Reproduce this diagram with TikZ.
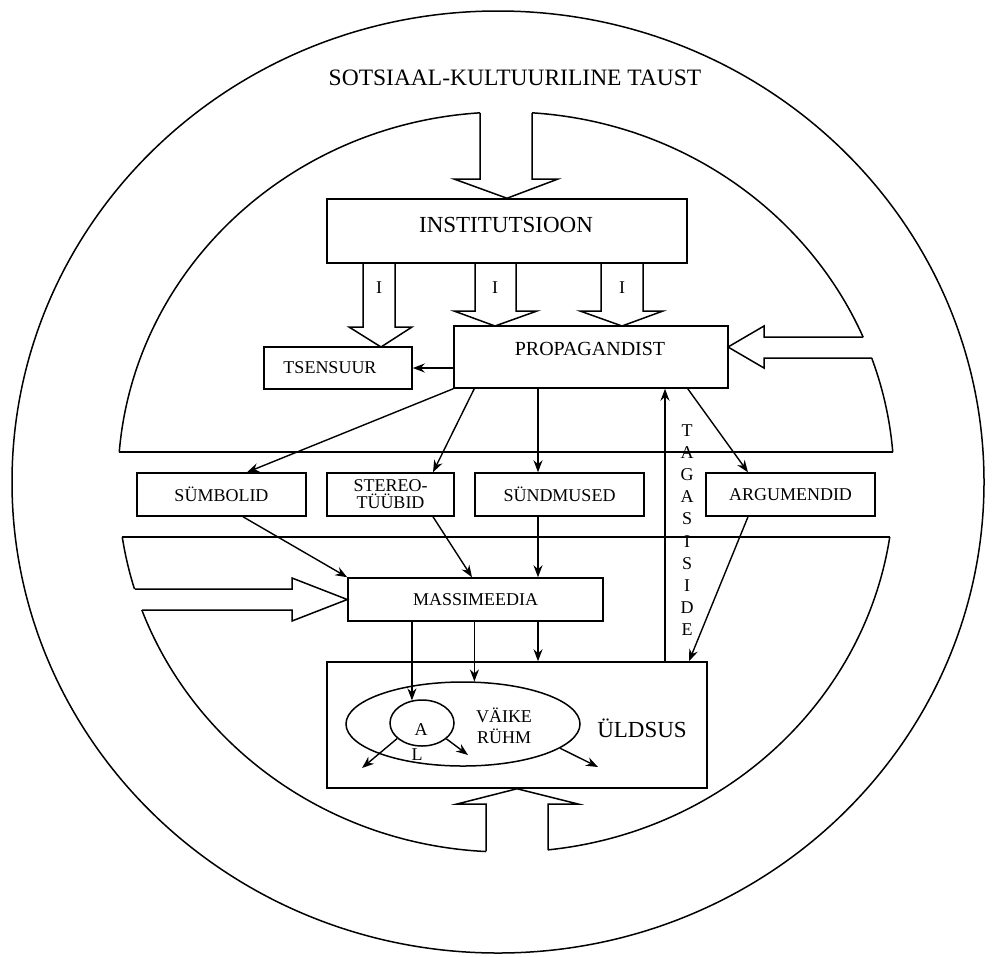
\documentclass[tikz,border=0pt]{standalone}
\usepackage{fontspec}
\setmainfont{Liberation Serif}
\usetikzlibrary{arrows.meta,shapes.geometric,calc}
\begin{document}
\begin{tikzpicture}[x=1pt,y=-1pt,
  line width=1.5pt,
  box/.style={draw, inner sep=0pt, font=\fontsize{18}{17}\selectfont, align=center},
  arr/.style={-{Stealth[length=12pt,width=9pt]}, line width=1.4pt},
  hollow/.style={line width=1.5pt, line join=miter},
  lbl/.style={inner sep=0pt, font=\fontsize{18}{18}\selectfont}
]
\useasboundingbox (0,0) rectangle (992,956);

% outer circle
\draw (498,482) ellipse [x radius=486, y radius=471];

% inner circle with gaps
\begin{scope}[even odd rule]
\clip (-20,-20) rectangle (1012,976)
  (480,0) rectangle (532,200)
  (700,337) rectangle (1000,358)
  (0,589) rectangle (300,610)
  (486,780) rectangle (548,1000)
  (0,452) rectangle (1000,537);
\draw (506,482) ellipse [x radius=388, y radius=370];
\end{scope}

% band lines
\draw (119.3,452) -- (892.7,452);
\draw (122.3,537) -- (889.7,537);

% title
\node[font=\fontsize{23.5}{23.5}\selectfont, inner sep=0pt] (title) at (515,78) {SOTSIAAL-KULTUURILINE TAUST};

% boxes
\node[draw, inner sep=0pt, minimum width=360, minimum height=64] (inst) at (507,231) {};
\node[lbl, font=\fontsize{23}{23}\selectfont] (instt) at (506,225) {INSTITUTSIOON};
\node[box, minimum width=148, minimum height=42] (tsen) at (338,368) {\hspace*{-16pt}TSENSUUR};
\node[draw, inner sep=0pt, minimum width=274, minimum height=62] (prop) at (591,357) {};
\node[lbl, font=\fontsize{20}{20}\selectfont] (propt) at (590,349) {PROPAGANDIST};
\node[box, minimum width=169, minimum height=43] (symb) at (221.5,494.5) {SÜMBOLID};
\node[box, minimum width=127, minimum height=43] (ster) at (390.5,494.5) {STEREO-\\TÜÜBID};
\node[box, minimum width=169, minimum height=43] (sund) at (559.5,494.5) {SÜNDMUSED};
\node[box, minimum width=169, minimum height=43] (arg) at (790.5,494.5) {ARGUMENDID};
\node[box, minimum width=255, minimum height=43] (mass) at (475.5,599.5) {MASSIMEEDIA};
\node[draw, inner sep=0pt, minimum width=380, minimum height=126] (uld) at (517,725) {};
\node[lbl, font=\fontsize{23}{23}\selectfont] (uldt) at (642,728) {ÜLDSUS};
\node[draw, ellipse, inner sep=0pt, minimum width=234, minimum height=84] (vell) at (463,724) {};
\node[lbl, align=center, font=\fontsize{18}{21}\selectfont] (vt) at (504,726) {VÄIKE\\RÜHM};
\node[draw, ellipse, inner sep=0pt, minimum width=64, minimum height=46] (aell) at (422,723) {};
\node[lbl] (at) at (421,730) {A};
\node[lbl] (lt) at (417,755) {L};
\node[lbl, align=center, font=\fontsize{18}{22.2}\selectfont] (tag) at (687,530) {T\\A\\G\\A\\S\\I\\S\\I\\D\\E};

% hollow arrows
\draw[hollow] (480,113) -- (480,179) -- (454,179) -- (inst.north) -- (558,179) -- (532,179) -- (532,113);
\draw[hollow] (863,337) -- (764,337) -- (764,326) -- (728,347) -- (764,368) -- (764,358) -- (872,358);
\draw[hollow] (135,589) -- (292,589) -- (292,578) -- (mass.west) -- (292,621) -- (292,610) -- (142,610);
\draw[hollow] (486,851) -- (486,804) -- (457,804) -- (uld.south) -- (578,804) -- (548,804) -- (548,850);
% I arrows
\draw[hollow] (363,263) -- (363,327) -- (349,327) -- (381,347) -- (412,327) -- (395,327) -- (395,263);
\draw[hollow] (475,263) -- (475,311) -- (454,311) -- (495,326) -- (537,311) -- (516,311) -- (516,263);
\draw[hollow] (601,263) -- (601,311) -- (580,311) -- (622,326) -- (663,311) -- (643,311) -- (643,263);
\node[lbl] (i1) at (379,288) {I};
\node[lbl] (i2) at (495,288) {I};
\node[lbl] (i3) at (622,288) {I};

% connectors
\coordinate (sx) at ([xshift=-21.5]sund.north);
\coordinate (fb) at ([xshift=148]uld.north);
\coordinate (e1) at (362,768);
\coordinate (e2) at (468,755);
\coordinate (e3) at (598,767);
\draw[arr] (prop.west |- tsen.east) -- (tsen.east);
\draw[arr] (prop.south west) -- ([xshift=25.5]symb.north);
\draw[arr] ([xshift=21]prop.south west) -- ([xshift=42.5]ster.north);
\draw[arr] (sx |- prop.south) -- (sx);
\draw[arr] ([xshift=-41]prop.south east) -- ([xshift=-42.5]arg.north);
\draw[arr] (fb) -- (fb |- prop.south);
\draw[arr] ([xshift=21.5]symb.south) -- (mass.north west);
\draw[arr] ([xshift=42.5]ster.south) -- ([xshift=-3.5]mass.north);
\draw[arr] ([xshift=-21.5]sund.south) -- ([xshift=62.5]mass.north);
\draw[arr] ([xshift=-42.5]arg.south) -- ([xshift=172]uld.north);
\draw[arr] (aell.114 |- mass.south) -- (aell.114);
\draw[arr] (vell.75 |- mass.south) -- (vell.75);
\draw[arr] ([xshift=62.5]mass.south) -- ([xshift=21]uld.north);
\draw[arr] (aell.212) -- (e1);
\draw[arr] (aell.327) -- (e2);
\draw[arr] (vell.346) -- (e3);
\end{tikzpicture}
\end{document}
